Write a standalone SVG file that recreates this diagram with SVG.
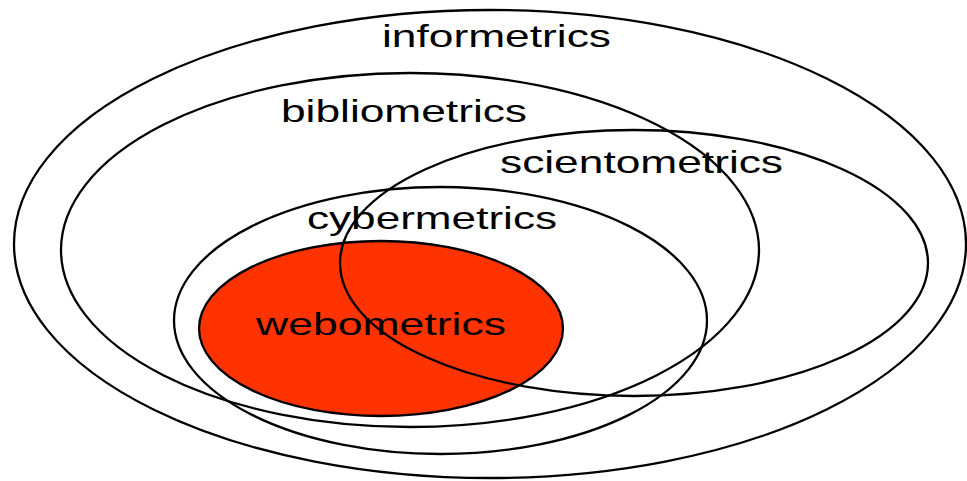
<svg xmlns="http://www.w3.org/2000/svg" width="967" height="481" viewBox="0 0 967 481">
<style>
.ring{fill:none;stroke:#000;stroke-width:2.3}
.lbl{font-family:"Liberation Sans",Arial,sans-serif;font-size:32px;fill:#000}
</style>
<rect width="967" height="481" fill="#fff"/>
<g id="webometrics-fill">
<ellipse cx="381" cy="328.5" rx="182" ry="87.5" fill="#FF3300"/>
</g>
<g id="informetrics">
<ellipse class="ring" cx="490" cy="244" rx="476" ry="234"/>
<text class="lbl" x="382" y="47" textLength="229" lengthAdjust="spacingAndGlyphs">informetrics</text>
</g>
<g id="bibliometrics">
<ellipse class="ring" cx="410" cy="250" rx="349" ry="177"/>
<text class="lbl" x="281" y="122" textLength="246" lengthAdjust="spacingAndGlyphs">bibliometrics</text>
</g>
<g id="scientometrics">
<ellipse class="ring" cx="634" cy="263" rx="294" ry="133"/>
<text class="lbl" x="500" y="173" textLength="283" lengthAdjust="spacingAndGlyphs">scientometrics</text>
</g>
<g id="cybermetrics">
<ellipse class="ring" cx="440.5" cy="320.5" rx="266.5" ry="133.5"/>
<text class="lbl" x="307" y="229" textLength="250" lengthAdjust="spacingAndGlyphs">cybermetrics</text>
</g>
<g id="webometrics">
<ellipse class="ring" cx="381" cy="328.5" rx="182" ry="87.5"/>
<text class="lbl" x="256" y="335" textLength="250" lengthAdjust="spacingAndGlyphs">webometrics</text>
</g>
<g id="connectors"/>
</svg>
